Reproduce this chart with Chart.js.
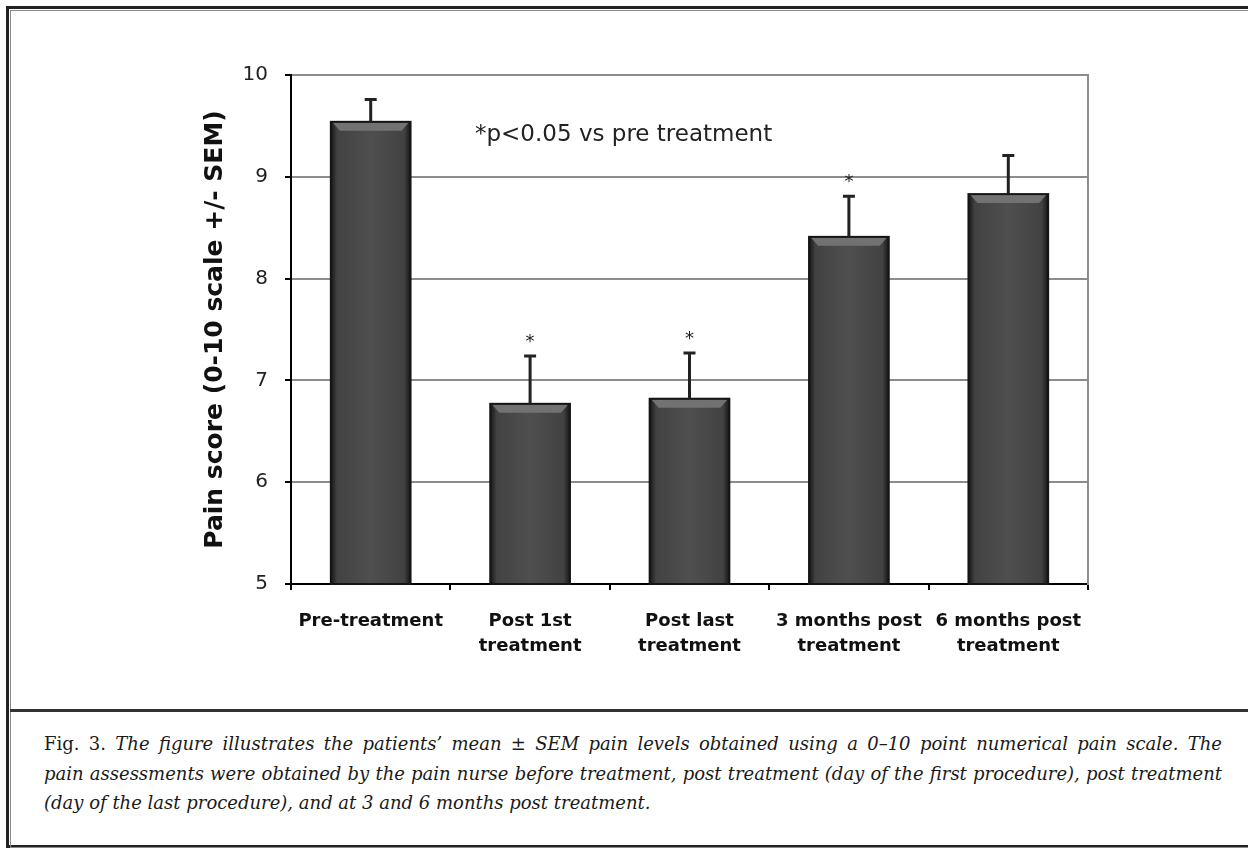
<!DOCTYPE html>
<html>
<head>
<meta charset="utf-8">
<script src="https://cdn.jsdelivr.net/npm/chart.js@4.4.1/dist/chart.umd.min.js"></script>
<style>
    body { margin: 0; background: #fff; width: 1248px; height: 852px; overflow: hidden; position: relative; }
    #frame { position: absolute; left: 6px; top: 6px; width: 1260px; height: 842px; border: 3px solid #222; box-sizing: border-box; }
    #inner { position: absolute; left: 10px; top: 10px; width: 1260px; height: 838px; border: 1px solid #8a8a8a; box-sizing: border-box; }
    #sep { position: absolute; left: 10px; top: 709px; width: 1240px; border-top: 3px solid #333; }
    #chart { position: absolute; left: 0; top: 0; }
    #caption { position: absolute; left: 44px; top: 729px; width: 1178px; font-family: "DejaVu Serif", serif; font-size: 18px; line-height: 29.5px; color: #1a1a1a; }
    #caption div { white-space: nowrap; }
    #caption .full { text-align: justify; text-align-last: justify; white-space: normal; }
    #caption i { font-style: italic; }
</style>
</head>
<body>
<div id="frame"></div>
<div id="inner"></div>
<div id="sep"></div>
<canvas id="chart" width="1248" height="708"></canvas>
<div id="caption">
    <div class="full">Fig. 3. <i>The figure illustrates the patients’ mean ± SEM pain levels obtained using a 0–10 point numerical pain scale. The</i></div>
    <div class="full"><i>pain assessments were obtained by the pain nurse before treatment, post treatment (day of the first procedure), post treatment</i></div>
    <div><i>(day of the last procedure), and at 3 and 6 months post treatment.</i></div>
</div>
<script>
const categories = [["Pre-treatment"], ["Post 1st", "treatment"], ["Post last", "treatment"], ["3 months post", "treatment"], ["6 months post", "treatment"]]
const painMeans = [9.54, 6.77, 6.82, 8.41, 8.83]
const painSem = [0.22, 0.47, 0.45, 0.40, 0.38]
const significant = [false, true, true, true, false]
const yMin = 5
const yMax = 10
const note = "*p<0.05 vs pre treatment"

const sans = "'DejaVu Sans', sans-serif"

// bevelled look of the original bars
const barShading = {
    id: "barShading",
    afterDatasetsDraw: chart => {
        const { ctx, chartArea } = chart
        chart.getDatasetMeta(0).data.forEach(bar => {
            const w = bar.width
            const l = bar.x - w / 2
            const r = bar.x + w / 2
            const t = bar.y
            const b = Math.min(bar.base, chartArea.bottom)
            ctx.save()
            const g = ctx.createLinearGradient(l, 0, r, 0)
            g.addColorStop(0, "#161616")
            g.addColorStop(0.08, "#424242")
            g.addColorStop(0.5, "#4f4f4f")
            g.addColorStop(0.92, "#424242")
            g.addColorStop(1, "#161616")
            ctx.fillStyle = g
            ctx.fillRect(l, t, w, b - t)
            ctx.fillStyle = "#727272"
            ctx.beginPath()
            ctx.moveTo(l + 2, t + 1)
            ctx.lineTo(r - 2, t + 1)
            ctx.lineTo(r - 9, t + 9)
            ctx.lineTo(l + 9, t + 9)
            ctx.closePath()
            ctx.fill()
            ctx.strokeStyle = "#151515"
            ctx.lineWidth = 2
            ctx.strokeRect(l, t, w, b - t)
            ctx.restore()
        })
    }
}

const errorBars = {
    id: "errorBars",
    afterDatasetsDraw: chart => {
        const { ctx, scales: { y } } = chart
        chart.getDatasetMeta(0).data.forEach((bar, i) => {
            const top = y.getPixelForValue(painMeans[i] + painSem[i])
            ctx.save()
            ctx.strokeStyle = "#222"
            ctx.lineWidth = 3
            ctx.beginPath()
            ctx.moveTo(bar.x, bar.y)
            ctx.lineTo(bar.x, top)
            ctx.moveTo(bar.x - 6, top)
            ctx.lineTo(bar.x + 6, top)
            ctx.stroke()
            if (significant[i]) {
                ctx.fillStyle = "#222"
                ctx.font = "18px " + sans
                ctx.textAlign = "center"
                ctx.textBaseline = "middle"
                ctx.fillText("*", bar.x, top - 14)
            }
            ctx.restore()
        })
        ctx.save()
        ctx.fillStyle = "#222"
        ctx.font = "23px " + sans
        ctx.textBaseline = "middle"
        ctx.fillText(note, chart.chartArea.left + 184, y.getPixelForValue(9.41))
        ctx.restore()
    }
}

new Chart(document.getElementById("chart"), {
    type: "bar",
    data: {
        labels: categories,
        datasets: [{
            data: painMeans,
            backgroundColor: "#4a4a4a",
            borderWidth: 0,
            barPercentage: 0.5,
            categoryPercentage: 1
        }]
    },
    options: {
        responsive: false,
        animation: false,
        layout: { padding: { left: 180, right: 160, top: 75, bottom: 0 } },
        plugins: { legend: { display: false }, tooltip: { enabled: false } },
        scales: {
            x: {
                grid: { offset: true, drawOnChartArea: false, tickLength: 6, tickColor: "#000", lineWidth: 2 },
                border: { color: "#000", width: 2 },
                ticks: { color: "#111", padding: 19, maxRotation: 0, autoSkip: false, font: { family: sans, size: 18, weight: "bold", lineHeight: 1.4 } },
                afterFit: scale => { scale.height = 124 }
            },
            y: {
                min: yMin,
                max: yMax,
                ticks: { stepSize: 1, padding: 17, color: "#222", font: { family: sans, size: 20 } },
                grid: { color: "#8c8c8c", lineWidth: 2, tickLength: 6, tickColor: "#000" },
                border: { color: "#000", width: 2 },
                title: { display: true, text: "Pain score (0-10 scale +/- SEM)", color: "#111", padding: { top: 20, bottom: 0 }, font: { family: sans, size: 25, weight: "bold", lineHeight: 1.2 } },
                afterFit: scale => { scale.width = 111 }
            },
            y2: {
                position: "right",
                min: yMin,
                max: yMax,
                ticks: { display: false },
                grid: { drawOnChartArea: false, drawTicks: false },
                border: { color: "#8c8c8c", width: 2 },
                afterFit: scale => { scale.width = 0 }
            }
        }
    },
    plugins: [barShading, errorBars]
})
</script>
</body>
</html>
